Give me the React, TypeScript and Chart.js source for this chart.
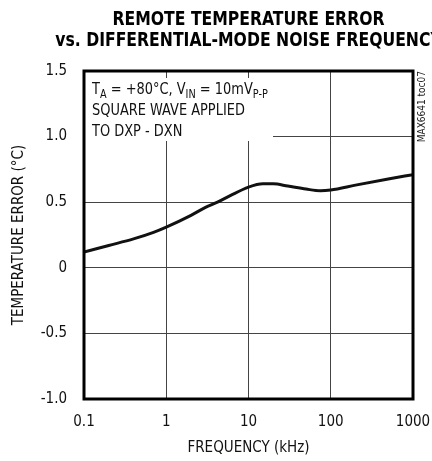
import React, { useEffect, useRef } from 'react';
import { Chart, registerables } from 'chart.js';

Chart.register(...registerables);

const FONT = "'Liberation Sans Narrow', 'DejaVu Sans Condensed', 'Arial Narrow', sans-serif";

const frequencies = [0.1, 0.2, 0.4, 0.7, 1, 2, 3, 4.2, 6, 10, 15, 20, 30, 50, 75, 100, 200, 500, 1000];
const errors = [0.12, 0.17, 0.22, 0.27, 0.31, 0.4, 0.46, 0.5, 0.55, 0.615, 0.64, 0.64, 0.623, 0.6, 0.587, 0.593, 0.63, 0.677, 0.71];
const xTicks = [0.1, 1, 10, 100, 1000];
const xTickLabels = ['0.1', '1', '10', '100', '1000'];
const yTicks = [-1.0, -0.5, 0, 0.5, 1.0, 1.5];
const yTickLabels = ['-1.0', '-0.5', '0', '0.5', '1.0', '1.5'];
const titleLines = ['REMOTE TEMPERATURE ERROR', 'vs. DIFFERENTIAL-MODE NOISE FREQUENCY'];
const xTitle = 'FREQUENCY (kHz)';
const yTitle = 'TEMPERATURE ERROR (°C)';
const sideLabel = 'MAX6641 toc07';
// annotation runs: [text, isSubscript]
const noteLine1: [string, boolean][] = [
  ['T', false], ['A', true], [' = +80°C, V', false], ['IN', true], [' = 10mV', false], ['P-P', true],
];
const noteLine2 = 'SQUARE WAVE APPLIED';
const noteLine3 = 'TO DXP - DXN';

const overlay = {
  id: 'overlay',
  beforeDatasetsDraw(chart: any) {
    const { ctx, chartArea } = chart;
    const { left, top } = chartArea;
    ctx.save();
    ctx.fillStyle = '#ffffff';
    ctx.fillRect(left + 1, top + 7, 188, 63);
    ctx.restore();
  },
  afterDraw(chart: any) {
    const { ctx, chartArea } = chart;
    const { left, top, right, bottom } = chartArea;
    ctx.save();
    // frame
    ctx.strokeStyle = '#000';
    ctx.lineWidth = 3;
    ctx.strokeRect(left, top, right - left, bottom - top);

    // title (condensed by horizontal scaling)
    ctx.fillStyle = '#000';
    ctx.textAlign = 'center';
    ctx.textBaseline = 'alphabetic';
    ctx.font = `bold 20px ${FONT}`;
    const cx = (left + right) / 2;
    const sx = 0.87;
    ctx.save();
    ctx.translate(cx, 0);
    ctx.scale(sx, 1);
    ctx.fillText(titleLines[0], 0, 25);
    ctx.fillText(titleLines[1], 0, 46);
    ctx.restore();

    // annotation
    ctx.save();
    ctx.translate(left + 8, 0);
    ctx.scale(0.9, 1);
    ctx.textAlign = 'left';
    ctx.fillStyle = '#111';
    let x = 0;
    const base1 = top + 23;
    for (const [t, sub] of noteLine1) {
      ctx.font = sub ? `12px ${FONT}` : `16px ${FONT}`;
      ctx.fillText(t, x, sub ? base1 + 4 : base1);
      x += ctx.measureText(t).width;
    }
    ctx.font = `16px ${FONT}`;
    ctx.fillText(noteLine2, 0, top + 44);
    ctx.fillText(noteLine3, 0, top + 65);
    ctx.restore();

    // side label
    ctx.save();
    ctx.translate(right + 9, top);
    ctx.rotate(-Math.PI / 2);
    ctx.textAlign = 'right';
    ctx.textBaseline = 'middle';
    ctx.font = `10px ${FONT}`;
    ctx.fillStyle = '#222';
    ctx.fillText(sideLabel, 0, 0);
    ctx.restore();

    ctx.restore();
  },
};

export default function App() {
  const ref = useRef<HTMLCanvasElement>(null);
  useEffect(() => {
    document.body.style.margin = '0';
    const chart = new Chart(ref.current as HTMLCanvasElement, {
      type: 'line',
      data: {
        datasets: [
          {
            data: frequencies.map((f, i) => ({ x: f, y: errors[i] })),
            borderColor: '#111',
            borderWidth: 3,
            pointRadius: 0,
            tension: 0.4,
            cubicInterpolationMode: 'monotone',
            fill: false,
          },
        ],
      },
      options: {
        responsive: false,
        animation: false,
        layout: { padding: { left: 0, right: 19, top: 71, bottom: 0 } },
        plugins: { legend: { display: false }, tooltip: { enabled: false }, title: { display: false } },
        scales: {
          x: {
            type: 'logarithmic',
            min: 0.1,
            max: 1000,
            afterBuildTicks: (s: any) => {
              s.ticks = xTicks.map((v) => ({ value: v }));
            },
            afterFit: (s: any) => {
              s.height = 62;
              s.paddingLeft = 0;
              s.paddingRight = 0;
            },
            grid: { color: '#444', lineWidth: 1, drawTicks: false },
            border: { display: false },
            ticks: {
              padding: 14,
              color: '#111',
              font: { family: FONT, size: 15 },
              maxRotation: 0,
              autoSkip: false,
              callback: (v: any) => xTickLabels[xTicks.indexOf(Number(v))] ?? '',
            },
            title: {
              display: true,
              text: xTitle,
              color: '#111',
              font: { family: FONT, size: 15 },
              padding: { top: 6, bottom: 4 },
            },
          },
          y: {
            type: 'linear',
            min: -1,
            max: 1.5,
            afterBuildTicks: (s: any) => {
              s.ticks = yTicks.map((v) => ({ value: v }));
            },
            afterFit: (s: any) => {
              s.width = 84;
            },
            grid: { color: '#444', lineWidth: 1, drawTicks: false },
            border: { display: false },
            ticks: {
              padding: 17,
              color: '#111',
              font: { family: FONT, size: 15 },
              autoSkip: false,
              callback: (v: any) => yTickLabels[yTicks.indexOf(Number(v))] ?? '',
            },
            title: {
              display: true,
              text: yTitle,
              color: '#111',
              font: { family: FONT, size: 15 },
              padding: { top: 10, bottom: 0 },
            },
          },
        },
      },
      plugins: [overlay],
    } as any);
    return () => chart.destroy();
  }, []);
  return (
    <div style={{ width: 432, height: 461 }}>
      <canvas ref={ref} width={432} height={461} />
    </div>
  );
}
